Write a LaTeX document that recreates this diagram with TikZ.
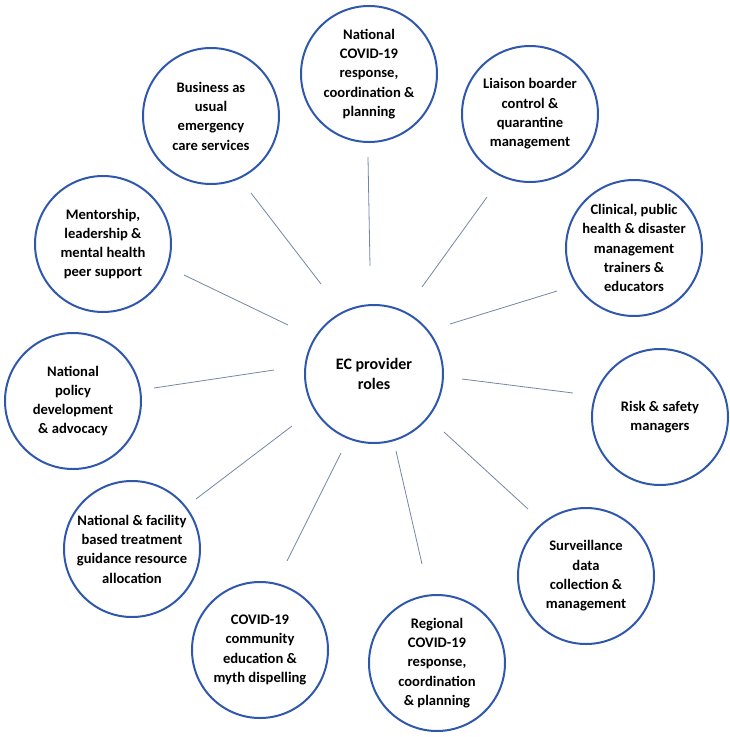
\documentclass[tikz,border=0pt]{standalone}
\usepackage{fontspec}
\setmainfont{Carlito}
\definecolor{ringblue}{RGB}{47,88,172}
\definecolor{linkgray}{RGB}{115,135,165}
\begin{document}
\begin{tikzpicture}[x=1pt,y=-1pt,
  role/.style={circle,draw=ringblue,line width=2pt,minimum size=136pt,inner sep=0pt,
    align=center,font=\fontsize{14.6}{19.3}\selectfont\bfseries},
  hub/.style={role,minimum size=138pt,font=\fontsize{16}{19.5}\selectfont\bfseries},
  link/.style={draw=linkgray,line width=0.8pt}]
\useasboundingbox (0,0) rectangle (729,737);
\node[hub] (c) at (374,374) {EC provider\\roles};
\node[role] (r1) at (369,74) {National\\COVID-19\\response,\\coordination \&\\planning};
\node[role] (r2) at (530,114) {Liaison boarder\\control \&\\quarantine\\management};
\node[role] (r3) at (634,248) {Clinical, public\\health \& disaster\\management\\trainers \&\\educators};
\node[role] (r4) at (660,417) {Risk \& safety\\managers};
\node[role] (r5) at (586,576) {Surveillance\\data\\collection \&\\management};
\node[role] (r6) at (437,663) {Regional\\COVID-19\\response,\\coordination\\\& planning};
\node[role] (r7) at (260,650) {COVID-19\\community\\education \&\\myth dispelling};
\node[role] (r8) at (132,549) {National \& facility\\based treatment\\guidance resource\\allocation};
\node[role] (r9) at (73,401) {National\\policy\\development\\\& advocacy};
\node[role] (r10) at (103,244) {Mentorship,\\leadership \&\\mental health\\peer support};
\node[role] (r11) at (211,116) {Business as\\usual\\emergency\\care services};
% connector end points
\coordinate (a1) at (370,266); \coordinate (b1) at (368,157);
\coordinate (a2) at (422,287); \coordinate (b2) at (487,197);
\coordinate (a3) at (450,324); \coordinate (b3) at (557,291);
\coordinate (a4) at (462,379); \coordinate (b4) at (573,393);
\coordinate (a5) at (444,432); \coordinate (b5) at (528,509);
\coordinate (a6) at (396,451); \coordinate (b6) at (422,564);
\coordinate (a7) at (341,453); \coordinate (b7) at (287,561);
\coordinate (a8) at (292,426); \coordinate (b8) at (196,499);
\coordinate (a9) at (274,370); \coordinate (b9) at (154,388);
\coordinate (a10) at (288,325); \coordinate (b10) at (184,275);
\coordinate (a11) at (321,284); \coordinate (b11) at (251,193);
\foreach \i in {1,...,11} {\draw[link] (a\i) -- (b\i);}
\end{tikzpicture}
\end{document}
